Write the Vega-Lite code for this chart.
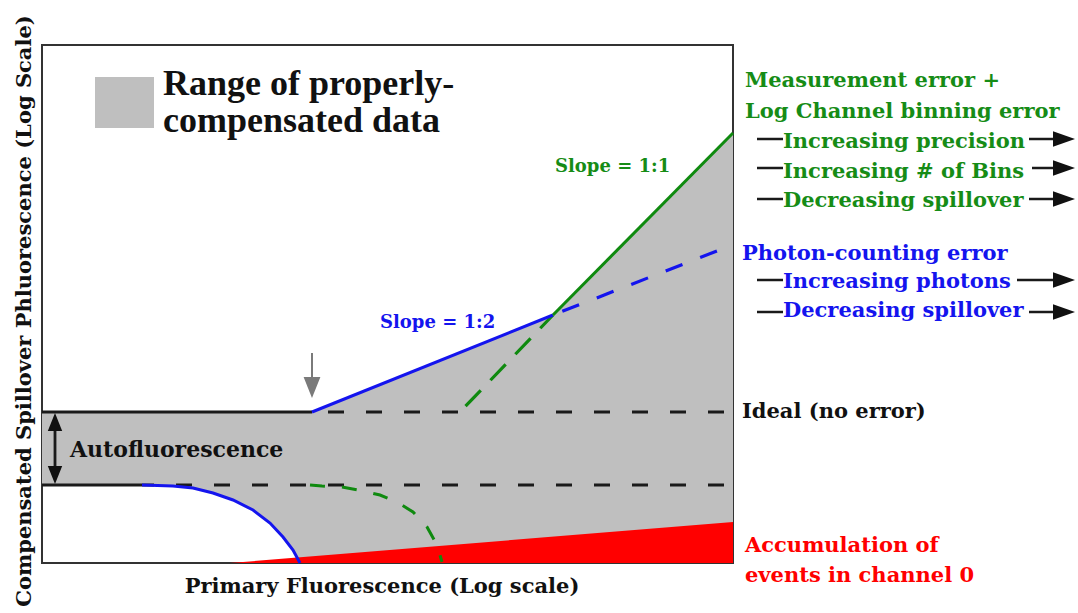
{
  "$schema": "https://vega.github.io/schema/vega-lite/v6.json",
  "width": 691,
  "height": 518,
  "autosize": {"type": "none"},
  "padding": {"left": 42, "top": 45, "right": 345, "bottom": 50},
  "background": "white",
  "config": {"view": {"stroke": "#333333", "strokeWidth": 2}},
  "datasets": {
    "region": [
      {"x": 0, "y": 151, "y2": 78},
      {"x": 100, "y": 151, "y2": 78},
      {"x": 131, "y": 151, "y2": 77},
      {"x": 151, "y": 151, "y2": 75},
      {"x": 171, "y": 151, "y2": 70},
      {"x": 191, "y": 151, "y2": 63},
      {"x": 211, "y": 151, "y2": 53},
      {"x": 228, "y": 151, "y2": 40},
      {"x": 241, "y": 151, "y2": 26},
      {"x": 251, "y": 151, "y2": 13},
      {"x": 258, "y": 151, "y2": 0},
      {"x": 270, "y": 151, "y2": 0},
      {"x": 511, "y": 248, "y2": 0},
      {"x": 691, "y": 430, "y2": 0}
    ],
    "channel0": [
      {"x": 188, "y": 0},
      {"x": 691, "y": 41}
    ],
    "legendbox": [
      {"x": 53, "x2": 112, "y": 435, "y2": 486}
    ],
    "lines": [
      {"s": "blackSolid", "id": "a1", "x": 0, "y": 151},
      {"s": "blackSolid", "id": "a1", "x": 270, "y": 151},
      {"s": "blackSolid", "id": "a2", "x": 0, "y": 78},
      {"s": "blackSolid", "id": "a2", "x": 100, "y": 78},
      {"s": "blackSolid", "id": "a3", "x": 13, "y": 88},
      {"s": "blackSolid", "id": "a3", "x": 13, "y": 141},
      {"s": "dashTop", "id": "b1", "x": 270, "y": 151},
      {"s": "dashTop", "id": "b1", "x": 691, "y": 151},
      {"s": "dashBottom", "id": "b2", "x": 100, "y": 78},
      {"s": "dashBottom", "id": "b2", "x": 691, "y": 78},
      {"s": "blueSolid", "id": "c1", "x": 270, "y": 151},
      {"s": "blueSolid", "id": "c1", "x": 511, "y": 248},
      {"s": "blueSolid", "id": "c2", "x": 100, "y": 78},
      {"s": "blueSolid", "id": "c2", "x": 131, "y": 77},
      {"s": "blueSolid", "id": "c2", "x": 151, "y": 75},
      {"s": "blueSolid", "id": "c2", "x": 171, "y": 70},
      {"s": "blueSolid", "id": "c2", "x": 191, "y": 63},
      {"s": "blueSolid", "id": "c2", "x": 211, "y": 53},
      {"s": "blueSolid", "id": "c2", "x": 228, "y": 40},
      {"s": "blueSolid", "id": "c2", "x": 241, "y": 26},
      {"s": "blueSolid", "id": "c2", "x": 251, "y": 13},
      {"s": "blueSolid", "id": "c2", "x": 258, "y": 0},
      {"s": "greenSolid", "id": "d1", "x": 511, "y": 248},
      {"s": "greenSolid", "id": "d1", "x": 691, "y": 430},
      {"s": "blueDash", "id": "e1", "x": 511, "y": 248},
      {"s": "blueDash", "id": "e1", "x": 685, "y": 316},
      {"s": "greenDashUp", "id": "f1", "x": 418, "y": 151},
      {"s": "greenDashUp", "id": "f1", "x": 511, "y": 248},
      {"s": "greenCurve", "id": "f2", "x": 268, "y": 78},
      {"s": "greenCurve", "id": "f2", "x": 280, "y": 77},
      {"s": "greenCurve", "id": "f2", "x": 300, "y": 76},
      {"s": "greenCurve", "id": "f2", "x": 316, "y": 73},
      {"s": "greenCurve", "id": "f2", "x": 338, "y": 68},
      {"s": "greenCurve", "id": "f2", "x": 355, "y": 61},
      {"s": "greenCurve", "id": "f2", "x": 371, "y": 51},
      {"s": "greenCurve", "id": "f2", "x": 385, "y": 36},
      {"s": "greenCurve", "id": "f2", "x": 395, "y": 18},
      {"s": "greenCurve", "id": "f2", "x": 400, "y": 1},
      {"s": "gray", "id": "g1", "x": 270, "y": 178},
      {"s": "gray", "id": "g1", "x": 270, "y": 210}
    ],
    "ticks": [
      {"x": 715, "x2": 741, "y": 424},
      {"x": 715, "x2": 741, "y": 395},
      {"x": 715, "x2": 741, "y": 364},
      {"x": 715, "x2": 741, "y": 283},
      {"x": 715, "x2": 741, "y": 251},
      {"x": 987, "x2": 1013, "y": 424},
      {"x": 990, "x2": 1013, "y": 395},
      {"x": 987, "x2": 1013, "y": 364},
      {"x": 975, "x2": 1013, "y": 283},
      {"x": 987, "x2": 1013, "y": 251}
    ],
    "heads": [
      {"k": "gray", "x": 270, "y": 175.5},
      {"k": "up", "x": 13, "y": 141},
      {"k": "down", "x": 13, "y": 88},
      {"k": "right", "x": 1022, "y": 424},
      {"k": "right", "x": 1022, "y": 395},
      {"k": "right", "x": 1022, "y": 364},
      {"k": "right", "x": 1022, "y": 283},
      {"k": "right", "x": 1022, "y": 251}
    ],
    "labels": [
      {"g": "legend", "t": "Range of properly-", "x": 121, "y": 468},
      {"g": "legend", "t": "compensated data", "x": 121, "y": 431},
      {"g": "auto", "t": "Autofluorescence", "x": 28, "y": 106},
      {"g": "black", "t": "Ideal (no error)", "x": 700, "y": 145},
      {"g": "green", "t": "Measurement error +", "x": 703, "y": 476},
      {"g": "green", "t": "Log Channel binning error", "x": 703, "y": 445},
      {"g": "green", "t": "Increasing precision", "x": 741, "y": 415},
      {"g": "green", "t": "Increasing # of Bins", "x": 741, "y": 385},
      {"g": "green", "t": "Decreasing spillover", "x": 741, "y": 356},
      {"g": "blue", "t": "Photon-counting error", "x": 700, "y": 303},
      {"g": "blue", "t": "Increasing photons", "x": 741, "y": 275},
      {"g": "blue", "t": "Decreasing spillover", "x": 741, "y": 246},
      {"g": "red", "t": "Accumulation of", "x": 703, "y": 11},
      {"g": "red", "t": "events in channel 0", "x": 703, "y": -19},
      {"g": "greenSlope", "t": "Slope = 1:1", "x": 513, "y": 391},
      {"g": "blueSlope", "t": "Slope = 1:2", "x": 338, "y": 235},
      {"g": "xtitle", "t": "Primary Fluorescence (Log scale)", "x": 340, "y": -30},
      {"g": "ytitle", "t": "Compensated Spillover Phluorescence (Log Scale)", "x": -11, "y": 252}
    ]
  },
  "encoding": {
    "x": {"field": "x", "type": "quantitative", "scale": {"domain": [0, 691], "nice": false, "zero": false}, "axis": null},
    "y": {"field": "y", "type": "quantitative", "scale": {"domain": [0, 518], "nice": false, "zero": false}, "axis": null}
  },
  "layer": [
    {"data": {"name": "region"}, "mark": {"type": "area", "color": "#bfbfbf", "opacity": 1}, "encoding": {"y2": {"field": "y2"}}},
    {"data": {"name": "channel0"}, "mark": {"type": "area", "color": "#ff0000", "opacity": 1}, "encoding": {"y2": {"datum": 0}}},
    {"data": {"name": "legendbox"}, "mark": {"type": "rect", "color": "#bfbfbf"}, "encoding": {"x2": {"field": "x2"}, "y2": {"field": "y2"}}},
    {"data": {"name": "lines"}, "transform": [{"filter": "datum.s == 'blackSolid'"}], "mark": {"type": "line", "color": "#1a1a1a", "strokeWidth": 2.8}, "encoding": {"detail": {"field": "id"}}},
    {"data": {"name": "lines"}, "transform": [{"filter": "datum.s == 'dashTop'"}], "mark": {"type": "line", "color": "#1a1a1a", "strokeWidth": 3, "strokeDash": [16, 22], "strokeDashOffset": 22}, "encoding": {"detail": {"field": "id"}}},
    {"data": {"name": "lines"}, "transform": [{"filter": "datum.s == 'dashBottom'"}], "mark": {"type": "line", "color": "#1a1a1a", "strokeWidth": 3, "strokeDash": [16, 22], "strokeDashOffset": 4}, "encoding": {"detail": {"field": "id"}}},
    {"data": {"name": "lines"}, "transform": [{"filter": "datum.s == 'greenCurve'"}], "mark": {"type": "line", "color": "#0f8a0f", "strokeWidth": 3, "strokeDash": [15, 17]}, "encoding": {"detail": {"field": "id"}}},
    {"data": {"name": "lines"}, "transform": [{"filter": "datum.s == 'greenDashUp'"}], "mark": {"type": "line", "color": "#0f8a0f", "strokeWidth": 3.2, "strokeDash": [22, 14], "strokeDashOffset": 28}, "encoding": {"detail": {"field": "id"}}},
    {"data": {"name": "lines"}, "transform": [{"filter": "datum.s == 'blueDash'"}], "mark": {"type": "line", "color": "#1414ee", "strokeWidth": 3.2, "strokeDash": [18, 19], "strokeDashOffset": 27}, "encoding": {"detail": {"field": "id"}}},
    {"data": {"name": "lines"}, "transform": [{"filter": "datum.s == 'blueSolid'"}], "mark": {"type": "line", "color": "#1414ee", "strokeWidth": 3}, "encoding": {"detail": {"field": "id"}}},
    {"data": {"name": "lines"}, "transform": [{"filter": "datum.s == 'greenSolid'"}], "mark": {"type": "line", "color": "#0f8a0f", "strokeWidth": 3}, "encoding": {"detail": {"field": "id"}}},
    {"data": {"name": "lines"}, "transform": [{"filter": "datum.s == 'gray'"}], "mark": {"type": "line", "color": "#7a7a7a", "strokeWidth": 2}, "encoding": {"detail": {"field": "id"}}},
    {"data": {"name": "ticks"}, "mark": {"type": "rule", "color": "#1a1a1a", "strokeWidth": 2.5}, "encoding": {"x2": {"field": "x2"}}},
    {"data": {"name": "heads"}, "transform": [{"filter": "datum.k == 'gray'"}], "mark": {"type": "point", "filled": true, "opacity": 1, "color": "#7a7a7a", "strokeWidth": 0, "shape": "M-0.8,-1L0.8,-1L0,1Z", "size": 441}},
    {"data": {"name": "heads"}, "transform": [{"filter": "datum.k == 'up'"}], "mark": {"type": "point", "filled": true, "opacity": 1, "color": "#111111", "strokeWidth": 0, "shape": "M-0.8,1L0.8,1L0,-1Z", "size": 324}},
    {"data": {"name": "heads"}, "transform": [{"filter": "datum.k == 'down'"}], "mark": {"type": "point", "filled": true, "opacity": 1, "color": "#111111", "strokeWidth": 0, "shape": "M-0.8,-1L0.8,-1L0,1Z", "size": 324}},
    {"data": {"name": "heads"}, "transform": [{"filter": "datum.k == 'right'"}], "mark": {"type": "point", "filled": true, "opacity": 1, "color": "#111111", "strokeWidth": 0, "shape": "M-1,-0.7L1,0L-1,0.7Z", "size": 484}},
    {"data": {"name": "labels"}, "transform": [{"filter": "datum.g == 'legend'"}], "mark": {"type": "text", "align": "left", "baseline": "alphabetic", "font": "Liberation Serif", "fontWeight": "bold", "fontSize": 36, "color": "#111111"}, "encoding": {"text": {"field": "t"}}},
    {"data": {"name": "labels"}, "transform": [{"filter": "datum.g == 'auto'"}], "mark": {"type": "text", "align": "left", "baseline": "alphabetic", "font": "DejaVu Serif", "fontWeight": "bold", "fontSize": 22, "color": "#111111"}, "encoding": {"text": {"field": "t"}}},
    {"data": {"name": "labels"}, "transform": [{"filter": "datum.g == 'black'"}], "mark": {"type": "text", "align": "left", "baseline": "alphabetic", "font": "DejaVu Serif", "fontWeight": "bold", "fontSize": 21, "color": "#111111"}, "encoding": {"text": {"field": "t"}}},
    {"data": {"name": "labels"}, "transform": [{"filter": "datum.g == 'green'"}], "mark": {"type": "text", "align": "left", "baseline": "alphabetic", "font": "DejaVu Serif", "fontWeight": "bold", "fontSize": 21, "color": "#168c16"}, "encoding": {"text": {"field": "t"}}},
    {"data": {"name": "labels"}, "transform": [{"filter": "datum.g == 'blue'"}], "mark": {"type": "text", "align": "left", "baseline": "alphabetic", "font": "DejaVu Serif", "fontWeight": "bold", "fontSize": 21, "color": "#1414ee"}, "encoding": {"text": {"field": "t"}}},
    {"data": {"name": "labels"}, "transform": [{"filter": "datum.g == 'red'"}], "mark": {"type": "text", "align": "left", "baseline": "alphabetic", "font": "DejaVu Serif", "fontWeight": "bold", "fontSize": 21, "color": "#ff0000"}, "encoding": {"text": {"field": "t"}}},
    {"data": {"name": "labels"}, "transform": [{"filter": "datum.g == 'greenSlope'"}], "mark": {"type": "text", "align": "left", "baseline": "alphabetic", "font": "DejaVu Serif", "fontWeight": "bold", "fontSize": 18, "color": "#168c16"}, "encoding": {"text": {"field": "t"}}},
    {"data": {"name": "labels"}, "transform": [{"filter": "datum.g == 'blueSlope'"}], "mark": {"type": "text", "align": "left", "baseline": "alphabetic", "font": "DejaVu Serif", "fontWeight": "bold", "fontSize": 18, "color": "#1414ee"}, "encoding": {"text": {"field": "t"}}},
    {"data": {"name": "labels"}, "transform": [{"filter": "datum.g == 'xtitle'"}], "mark": {"type": "text", "align": "center", "baseline": "alphabetic", "font": "DejaVu Serif", "fontWeight": "bold", "fontSize": 21, "color": "#111111"}, "encoding": {"text": {"field": "t"}}},
    {"data": {"name": "labels"}, "transform": [{"filter": "datum.g == 'ytitle'"}], "mark": {"type": "text", "align": "center", "baseline": "alphabetic", "angle": 270, "font": "DejaVu Serif", "fontWeight": "bold", "fontSize": 21, "color": "#111111"}, "encoding": {"text": {"field": "t"}}}
  ]
}
